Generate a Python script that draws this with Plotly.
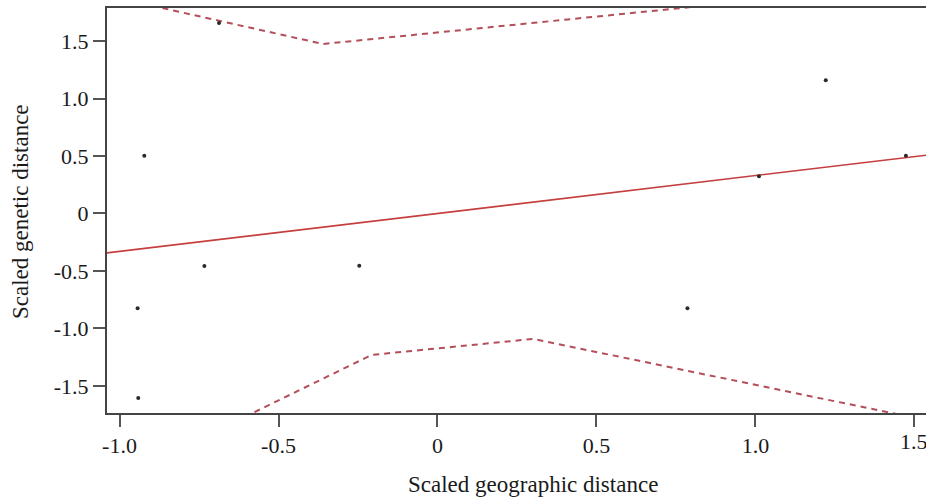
import plotly.graph_objects as go

# Scatter points (scaled geographic vs scaled genetic distance)
geo_x = [-0.687, -0.922, -0.943, -0.941, -0.733, -0.246, 0.786, 1.221, 1.011, 1.473]
gen_y = [1.657, 0.503, -0.824, -1.604, -0.457, -0.454, -0.824, 1.158, 0.323, 0.503]

# Regression line
reg_x = [-1.1, 1.6]
reg_slope = 0.33
reg_y = [reg_slope * v for v in reg_x]

# Confidence envelope (dashed)
upper_x = [-1.0, -0.36, 0.8]
upper_y = [1.87, 1.474, 1.796]
lower_x = [-0.7, -0.207, 0.301, 1.5]
lower_y = [-1.895, -1.23, -1.091, -1.776]

x_ticks = [-1.0, -0.5, 0, 0.5, 1.0, 1.5]
x_ticktext = ["-1.0", "-0.5", "0", "0.5", "1.0", ""]
x_edge_label = "1.5"
y_ticks = [-1.5, -1.0, -0.5, 0, 0.5, 1.0, 1.5]
y_ticktext = ["-1.5", "-1.0", "-0.5", "0", "0.5", "1.0", "1.5"]

FONT = "Liberation Serif, Times New Roman, serif"
TXT = "#1a1a1a"
band_color = "rgb(180,78,88)"
line_color = "rgb(198,62,62)"

fig = go.Figure()
fig.add_trace(go.Scatter(x=upper_x, y=upper_y, mode="lines",
                         line=dict(color=band_color, width=2, dash="6px,5px"),
                         hoverinfo="skip", showlegend=False))
fig.add_trace(go.Scatter(x=lower_x, y=lower_y, mode="lines",
                         line=dict(color=band_color, width=2, dash="6px,5px"),
                         hoverinfo="skip", showlegend=False))
fig.add_trace(go.Scatter(x=reg_x, y=reg_y, mode="lines",
                         line=dict(color=line_color, width=1.6),
                         showlegend=False))
fig.add_trace(go.Scatter(x=geo_x, y=gen_y, mode="markers",
                         marker=dict(color="#2a2a2a", size=4),
                         showlegend=False))

axis_common = dict(showgrid=False, zeroline=False, showline=True,
                   linecolor="#444", linewidth=2, ticks="outside",
                   ticklen=12, tickwidth=2, tickcolor="#555",
                   tickfont=dict(family=FONT, size=22, color=TXT))

fig.update_xaxes(range=[-1.0393, 1.5362], tickvals=x_ticks, ticktext=x_ticktext,
                 mirror=True, **axis_common)
fig.update_yaxes(range=[-1.735, 1.787], tickvals=y_ticks, ticktext=y_ticktext,
                 **axis_common)

fig.update_layout(
    width=926, height=497,
    margin=dict(l=107, r=0, t=8, b=84),
    plot_bgcolor="white", paper_bgcolor="white",
    font=dict(family=FONT, color=TXT),
    annotations=[
        dict(text=x_edge_label, xref="x", yref="paper",
             x=x_ticks[-1], y=(413 - 441) / 405,
             xanchor="center", yanchor="middle", showarrow=False,
             font=dict(family=FONT, size=22, color=TXT)),
        dict(text="Scaled geographic distance", xref="paper", yref="paper",
             x=(532.5 - 107) / 819, y=(413 - 484) / 405,
             xanchor="center", yanchor="middle", showarrow=False,
             font=dict(family=FONT, size=23, color=TXT)),
        dict(text="Scaled genetic distance", xref="paper", yref="paper",
             x=(20 - 107) / 819, y=(413 - 212) / 405, textangle=-90,
             xanchor="center", yanchor="middle", showarrow=False,
             font=dict(family=FONT, size=23, color=TXT)),
    ],
)

fig.write_html(
    "out.html",
    config={"displayModeBar": False},
    post_script="document.body.style.margin='0';document.body.style.overflow='hidden';",
)
